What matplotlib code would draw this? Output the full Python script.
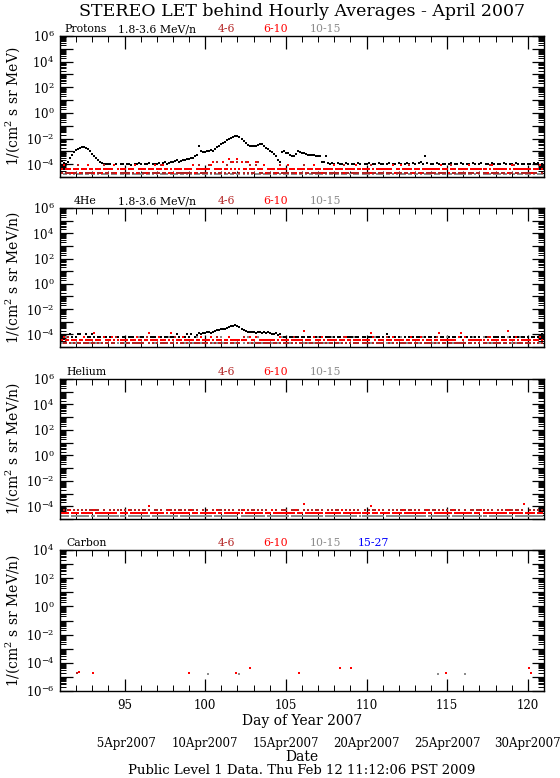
import numpy as np
import matplotlib
matplotlib.use("Agg")
import matplotlib.pyplot as plt
import matplotlib.transforms as mtransforms
from matplotlib.ticker import FixedLocator, FuncFormatter, MultipleLocator, LogLocator, NullFormatter

plt.rcParams['font.family'] = ['DejaVu Serif']
plt.rcParams['mathtext.fontset'] = 'dejavuserif'

# ---------------- data ----------------
DAY0 = 91.0          # first sample (day of year)
SLOT = 0.125         # 3-hour bins
N = None

# Panel 1: protons 1.8-3.6 MeV/n, log10 flux, 8 values per day (days 91..120)
P1_BLACK = [
    [-3.6, -3.75, -3.9, -3.95, -3.8, -3.5, -3.25, -3.05],
    [-2.9, -2.78, -2.7, -2.66, -2.68, -2.72, -2.85, -3.0],
    [-3.2, -3.4, -3.55, -3.7, -3.82, -3.9, -3.97, -4.0],
    [-4.0, -3.95, N, -4.05, -4.0, N, -3.95, -4.0],
    [N, -4.0, -3.95, -4.05, N, -3.98, -4.0, -3.92],
    [-4.0, N, -3.95, -4.02, -3.9, N, -4.0, -3.96],
    [-3.95, -3.9, N, -3.92, -3.85, -3.95, -3.88, -3.8],
    [-3.85, -3.78, -3.7, -3.8, -3.72, -3.65, -3.7, -3.6],
    [-3.62, -3.55, -3.5, -3.4, -3.3, -2.6, -2.95, -3.05],
    [-3.05, -2.95, -3.0, -2.9, -2.95, -2.85, -2.65, -2.55],
    [-2.45, -2.35, -2.25, -2.15, -2.05, -1.95, -1.88, -1.82],
    [-1.8, -1.9, -2.05, -2.2, -2.35, -2.5, -2.6, -2.62],
    [-2.6, -2.55, -2.5, -2.45, -2.4, -2.55, -2.75, -2.85],
    [-2.95, -3.05, -3.2, -3.4, -3.7, -3.85, -3.05, -3.0],
    [-3.1, -3.15, -3.25, -3.35, -3.4, -3.2, -3.0, -3.05],
    [-3.1, -3.15, -3.2, -3.25, -3.3, -3.28, -3.3, -3.35],
    [-3.35, -3.4, -3.8, -3.85, -3.4, -3.9, -3.95, -3.9],
    [-3.95, N, -3.9, -4.0, -3.95, N, -3.92, -4.0],
    [N, -3.95, -4.0, N, -3.9, -3.98, N, -3.95],
    [-4.0, -3.92, N, -3.95, -4.0, N, -3.9, -3.95],
    [-3.95, N, -4.0, -3.9, N, -3.95, -4.0, N],
    [-3.92, -3.95, N, -4.0, -3.9, -3.95, N, -3.88],
    [-3.95, N, -3.9, -3.85, -3.95, -3.4, -3.9, N],
    [-3.95, -4.0, N, -3.92, -3.95, N, -4.0, -3.95],
    [N, -3.95, -3.9, N, -4.0, -3.95, N, -3.92],
    [-4.0, N, -3.95, -3.98, N, -3.92, -4.0, N],
    [-3.95, -3.9, N, -4.0, -3.95, N, -3.9, -3.95],
    [N, -3.95, -4.0, N, -3.92, -3.95, N, -4.0],
    [-3.95, N, -3.9, -4.0, N, -3.95, -3.98, N],
    [-3.95, -4.0, N, -3.92, -3.95, -3.9, N, -3.95],
]
# quantised count levels (log10) for the low-count energy channels
P1_LEVELS = {'1': -4.1, '2': -4.35, '3': -4.65, '4': -4.8, '5': -3.85, '6': -3.6}
P1_RED = ["22122232", "22322212", "23222322", "22213222", "2.222132", "22232221",
          "22212232", "32222.22", "22132222", "22215222", "25226252", "62522522",
          "25222132", "22232222", "21222322", "22.22212", "22322222", "12222322",
          "22212222", "2232.222", "22222132", "21222223", "22232222", "22222122",
          "23222.22", "22212222", "22223212", "22222232", "12222222", "22322212"]
P1_DARKRED = ["33.333.3", "3133.333", "33.33313", "3.333.33", "333.3133", ".3333.33",
              "33133.33", "3.333333", "33.33133", "3313.353", "35313533", "53.35313",
              "31533.33", "3.333133", "33.333.3", "3133.333", "33.33.33", "333.3133",
              ".3333.33", "33133.33", "3.333.33", "33.33133", "3.333.33", "333.3333",
              ".3133.33", "33.333.3", "3.333133", "33.33.33", "3133.333", "33.33.13"]
P1_GREY = ["4.44.4.4", ".444.44.", "44.4.444", "4.444.44", ".44.4444", "44.44.4.",
           "4.4444.4", "444.44.4", ".4.444.4", "44.4.444", "4.44.44.", "44.4.4.4",
           ".444.444", "4.44.4.4", "44.444.4", "4.4.44.4", "444.4.44", ".44.444.",
           "4.444.44", "44.4.444", "4.44.4.4", ".444.44.", "44.4.444", "4.444.44",
           ".44.4444", "44.44.4.", "4.4444.4", "444.44.4", ".4.444.4", "44.4.444"]

# Panel 2: 4He 1.8-3.6 MeV/n
P2_BLACK = [
    [-4.22, N, -4.22, -4.22, N, -4.0, -4.22, N],
    [-4.22, -4.0, -4.0, N, -4.22, -4.0, -4.22, -4.22],
    [-4.0, -4.22, N, -4.22, -4.22, N, -4.22, -4.22],
    [N, -4.22, -4.22, N, -4.22, -4.22, N, -4.22],
    [-4.22, N, -4.22, -4.22, -4.22, N, -4.22, N],
    [-4.22, -4.22, N, -4.22, N, -4.22, -4.22, -4.22],
    [N, -4.22, -4.22, N, -4.22, -4.22, N, -4.22],
    [-4.22, N, -4.0, -4.22, N, -4.22, -4.22, -4.0],
    [-4.22, -4.0, N, -4.22, -4.05, -3.92, -4.0, -3.92],
    [-3.9, -3.85, -3.8, -3.9, -3.8, -3.7, -3.66, -3.62],
    [-3.6, -3.58, -3.55, -3.5, -3.42, -3.35, -3.3, -3.27],
    [-3.35, -3.43, -3.55, -3.66, -3.75, -3.8, -3.85, -3.8],
    [-3.85, -3.9, -3.8, -3.85, -3.92, -3.85, -3.9, -3.85],
    [-3.9, -3.95, -4.0, -3.92, -4.05, -4.0, N, -4.22],
    [-4.22, N, -4.22, -4.22, N, -4.22, -4.22, N],
    [-4.22, -4.22, N, -4.22, -4.22, N, -4.22, -4.22],
    [N, -4.22, -4.22, N, -4.22, -4.22, -4.22, N],
    [-4.22, N, -4.22, -4.22, N, -4.22, N, -4.22],
    [-4.22, -4.22, N, -4.22, -4.22, N, -4.22, -4.22],
    [N, -4.22, -4.22, -4.22, N, -4.22, -4.22, N],
    [-4.22, N, -4.0, -4.22, N, -4.22, -4.22, N],
    [-4.22, -4.22, N, -4.22, N, -4.22, -4.22, -4.22],
    [N, -4.22, -4.22, N, -4.22, -4.22, N, -4.22],
    [-4.22, N, -4.22, -4.22, N, -4.22, -4.22, N],
    [-4.22, -4.22, N, -4.22, -4.22, N, -4.22, -4.22],
    [N, -4.22, -4.22, N, -4.22, -4.22, -4.22, N],
    [-4.22, N, -4.22, -4.22, N, -4.22, N, -4.22],
    [-4.22, -4.22, N, -4.22, -4.22, N, -4.22, -4.22],
    [N, -4.22, -4.22, -4.22, N, -4.22, -4.22, N],
    [-4.22, N, -4.22, -4.22, N, -4.22, -4.22, -4.0],
]
P2_LEVELS = {'1': -4.0, '2': -4.22, '3': -4.45, '4': -4.68, '5': -3.9, '6': -3.75}
P2_RED = ["33233.33", "3.332333", "35333.23", "3323.333", "33.33323", "3.335333",
          "32333.35", "3.333233", "333.3323", "33323.33", "3.332333", "33333.23",
          "32.33333", "333.3233", "33.33333", "36333.23", "3323.333", "33.33323",
          "3.333333", "33523.33", "3.333233", "333.3323", "33323.33", "3.335333",
          "33333.25", "32.33333", "333.3233", "33.33363", "3323.333", "33.33323"]
P2_DARKRED = ["4.4424.4", ".44.444.", "44.4.424", "4.442.44", ".44.4444", "44.24.4.",
              "4.4444.4", "424.44.4", ".4.444.4", "44.4.424", "4.44.44.", "44.2.4.4",
              ".444.444", "4.44.4.4", "44.424.4", "4.4.44.4", "444.4.44", ".44.424.",
              "4.444.44", "44.4.444", "4.24.4.4", ".444.44.", "44.4.444", "4.424.44",
              ".44.4444", "44.44.4.", "4.4424.4", "444.44.4", ".4.444.4", "44.4.424"]
P2_GREY = [".4.2.44.", "4.4.24.4", ".44.4.2.", "4.24.4.4", "4.4.44.2", ".4.24.44",
           "4.4.4.24", ".24.4.4.", "4.4.2.44", ".4.44.4.", "24.4.4.4", ".4.4.24.",
           "4.2.4.44", ".44.4.2.", "4.4.24.4", ".4.4.44.", "24.4.4.2", ".4.44.4.",
           "4.2.4.44", ".44.2.4.", "4.4.44.4", ".24.4.4.", "4.4.2.44", ".4.44.4.",
           "24.4.4.4", ".4.4.24.", "4.2.4.44", ".44.4.2.", "4.4.24.4", ".4.4.44."]

# Panel 3: Helium
P3_LEVELS = {'1': -4.28, '2': -4.5, '3': -4.75, '5': -3.95, '6': -3.85}
P3_DARKRED = ["1.1.11.1", ".1.1.1.1", "1.11..1.", ".1.1.11.", "1..1.1.1", ".11.1..1",
              "1.1..1.1", ".1.11.1.", "1.1.1..1", ".1..1.11", "1.1.1.1.", ".11..1.1",
              "1.1.1.1.", ".1.1..11", "1..11.1.", ".1.1.1.1", "1.1..1.1", ".11.1.1.",
              "1.1.1..1", ".1.11.1.", "1..1.1.1", ".1.1.11.", "1.1..1.1", ".11.1.1.",
              "1.1.1.1.", ".1..11.1", "1.1.1.1.", ".1.1.1.1", "1.11.1..", ".1.1.1.1"]
P3_RED = ["22222122", "22.22222", "21222222", "22222.22", "22122222", "22225222",
          "2222.212", "22222222", "21222.22", "22222212", "2.222222", "22212222",
          "22222.22", "21222222", "22222122", "26222222", "222.2222", "22221222",
          "22222222", "22522212", "2222.222", "22122222", "22222212", "2.222222",
          "22212222", "22222.22", "21222222", "22222212", "22222262", "2222.222"]
P3_GREY = ["33333.33", "3333333.", "33.33333", "33333333", "3.333333", "33333.33",
           "33333333", "333.3333", "33333333", "3333.333", "33333333", "3.333333",
           "333333.3", "33333333", "33.33333", "33333333", "333.3333", "33333333",
           "3333.333", "33333333", "3.333333", "33333333", "333333.3", "33333333",
           "33.33333", "33333333", "3333.333", "33333333", "3.333333", "33333333"]

# Panel 4: Carbon (sparse points: day of year, log10 flux)
C_RED_DAY = [92.15, 93.04, 98.97, 101.94, 102.78, 105.84, 108.38, 109.04, 114.93, 120.1, 120.2]
C_RED_LOG = [-4.68, -4.7, -4.7, -4.7, -4.4, -4.7, -4.4, -4.4, -4.7, -4.4, -4.7]
C_DARKRED_DAY = [92.05]
C_DARKRED_LOG = [-4.75]
C_GREY_DAY = [100.19, 102.1, 114.4, 116.1]
C_GREY_LOG = [-4.82, -4.82, -4.82, -4.82]

DATE_DAYS = [95, 100, 105, 110, 115, 120]
DATE_LABELS = [" 5Apr2007", "10Apr2007", "15Apr2007", "20Apr2007", "25Apr2007", "30Apr2007"]

COL_BLACK = 'black'
COL_46 = '#b22222'
COL_610 = '#ff0000'
COL_1015 = '#8c8c8c'
COL_1527 = '#0000ff'

# ---------------- helpers ----------------
def decode_levels(chunks, levels):
    s = "".join(chunks)
    xs, ys = [], []
    for i, c in enumerate(s):
        if c in levels:
            xs.append(DAY0 + i * SLOT)
            ys.append(10.0 ** levels[c])
    return xs, ys

def decode_values(rows):
    flat = [v for r in rows for v in r]
    xs, ys = [], []
    for i, v in enumerate(flat):
        if v is not None:
            xs.append(DAY0 + i * SLOT)
            ys.append(10.0 ** v)
    return xs, ys

MS = 1.45
def dots(ax, x, y, color, ms=MS):
    ax.plot(x, y, linestyle='none', marker='s', ms=ms, mew=0, color=color)

def style_axis(ax, lo, hi, show_x):
    ax.set_yscale('log')
    ax.set_xlim(91, 121)
    ax.set_ylim(10.0 ** lo, 10.0 ** hi)
    ax.xaxis.set_major_locator(MultipleLocator(5))
    ax.xaxis.set_minor_locator(MultipleLocator(1))
    ax.yaxis.set_major_locator(FixedLocator(10.0 ** np.arange(lo, hi + 1)))
    ax.yaxis.set_minor_locator(LogLocator(base=10, subs=np.arange(2, 10), numticks=100))
    ax.yaxis.set_minor_formatter(NullFormatter())

    def fmt(v, pos):
        e = int(round(np.log10(v)))
        return r'$10^{%d}$' % e if e % 2 == 0 else ''
    ax.yaxis.set_major_formatter(FuncFormatter(fmt))
    ax.tick_params(which='both', direction='in', top=True, right=True, labelsize=8.5)
    ax.tick_params(which='major', length=9, width=0.9)
    ax.tick_params(which='minor', length=4.5, width=0.7)
    ax.tick_params(axis='x', which='major', pad=6)
    ax.tick_params(axis='y', which='major', pad=4)
    if not show_x:
        ax.tick_params(labelbottom=False)
    for sp in ax.spines.values():
        sp.set_linewidth(1.0)

def panel_labels(ax, items):
    for xf, txt, col in items:
        ax.text(xf, 1.012, txt, transform=ax.transAxes, fontsize=7.8,
                color=col, ha='left', va='bottom')

# ---------------- figure ----------------
W, H = 560, 778
fig = plt.figure(figsize=(5.6, 7.78), dpi=100)
L = 60 / W
AW = 484 / W
ax1 = fig.add_axes([L, 1 - 177 / H, AW, 141 / H])
ax2 = fig.add_axes([L, 1 - 347 / H, AW, 139 / H])
ax3 = fig.add_axes([L, 1 - 519 / H, AW, 140 / H])
ax4 = fig.add_axes([L, 1 - 691 / H, AW, 141 / H])

# panel 1
dots(ax1, *decode_values(P1_BLACK), COL_BLACK, ms=1.6)
dots(ax1, *decode_levels(P1_GREY, P1_LEVELS), COL_1015)
dots(ax1, *decode_levels(P1_DARKRED, P1_LEVELS), COL_46)
dots(ax1, *decode_levels(P1_RED, P1_LEVELS), COL_610)
style_axis(ax1, -5, 6, False)

# panel 2
dots(ax2, *decode_values(P2_BLACK), COL_BLACK)
dots(ax2, *decode_levels(P2_GREY, P2_LEVELS), COL_1015)
dots(ax2, *decode_levels(P2_DARKRED, P2_LEVELS), COL_46)
dots(ax2, *decode_levels(P2_RED, P2_LEVELS), COL_610)
style_axis(ax2, -5, 6, False)

# panel 3
dots(ax3, *decode_levels(P3_GREY, P3_LEVELS), COL_1015)
dots(ax3, *decode_levels(P3_DARKRED, P3_LEVELS), COL_46)
dots(ax3, *decode_levels(P3_RED, P3_LEVELS), COL_610)
style_axis(ax3, -5, 6, False)

# panel 4
dots(ax4, C_GREY_DAY, [10.0 ** v for v in C_GREY_LOG], COL_1015, ms=1.6)
dots(ax4, C_DARKRED_DAY, [10.0 ** v for v in C_DARKRED_LOG], COL_46, ms=2.0)
dots(ax4, C_RED_DAY, [10.0 ** v for v in C_RED_LOG], COL_610, ms=2.0)
style_axis(ax4, -6, 4, True)

def fx(px):
    return (px - 60) / 484.0

panel_labels(ax1, [(fx(64), 'Protons', COL_BLACK), (fx(118), '1.8-3.6 MeV/n', COL_BLACK),
                   (fx(218), '4-6', COL_46), (fx(263), '6-10', COL_610), (fx(310), '10-15', COL_1015)])
panel_labels(ax2, [(fx(74), '4He', COL_BLACK), (fx(118), '1.8-3.6 MeV/n', COL_BLACK),
                   (fx(218), '4-6', COL_46), (fx(263), '6-10', COL_610), (fx(310), '10-15', COL_1015)])
panel_labels(ax3, [(fx(66), 'Helium', COL_BLACK),
                   (fx(218), '4-6', COL_46), (fx(263), '6-10', COL_610), (fx(310), '10-15', COL_1015)])
panel_labels(ax4, [(fx(66), 'Carbon', COL_BLACK),
                   (fx(218), '4-6', COL_46), (fx(263), '6-10', COL_610), (fx(310), '10-15', COL_1015),
                   (fx(358), '15-27', COL_1527)])

# y labels
ylabels = [r'1/(cm$^2$ s sr MeV)', r'1/(cm$^2$ s sr MeV/n)', r'1/(cm$^2$ s sr MeV/n)', r'1/(cm$^2$ s sr MeV/n)']
for ax, lab in zip([ax1, ax2, ax3, ax4], ylabels):
    bb = ax.get_position()
    fig.text(13 / W, bb.y0 + bb.height / 2, lab, rotation=90, ha='center', va='center', fontsize=10)

# title and footer
xc = L + AW / 2
fig.text(xc, 1 - 12 / H, 'STEREO LET behind Hourly Averages - April 2007', ha='center', va='center', fontsize=12.5)
fig.text(xc, 1 - 721 / H, 'Day of Year 2007', ha='center', va='center', fontsize=10)
trans = mtransforms.blended_transform_factory(ax4.transData, fig.transFigure)
for d, lab in zip(DATE_DAYS, DATE_LABELS):
    ax4.text(d, 1 - 744 / H, lab, transform=trans, ha='center', va='center', fontsize=8.5, clip_on=False)
fig.text(xc, 1 - 757 / H, 'Date', ha='center', va='center', fontsize=10)
fig.text(xc, 1 - 771 / H, 'Public Level 1 Data. Thu Feb 12 11:12:06 PST 2009', ha='center', va='center', fontsize=9.5)

fig.savefig('out.png', dpi=100)
